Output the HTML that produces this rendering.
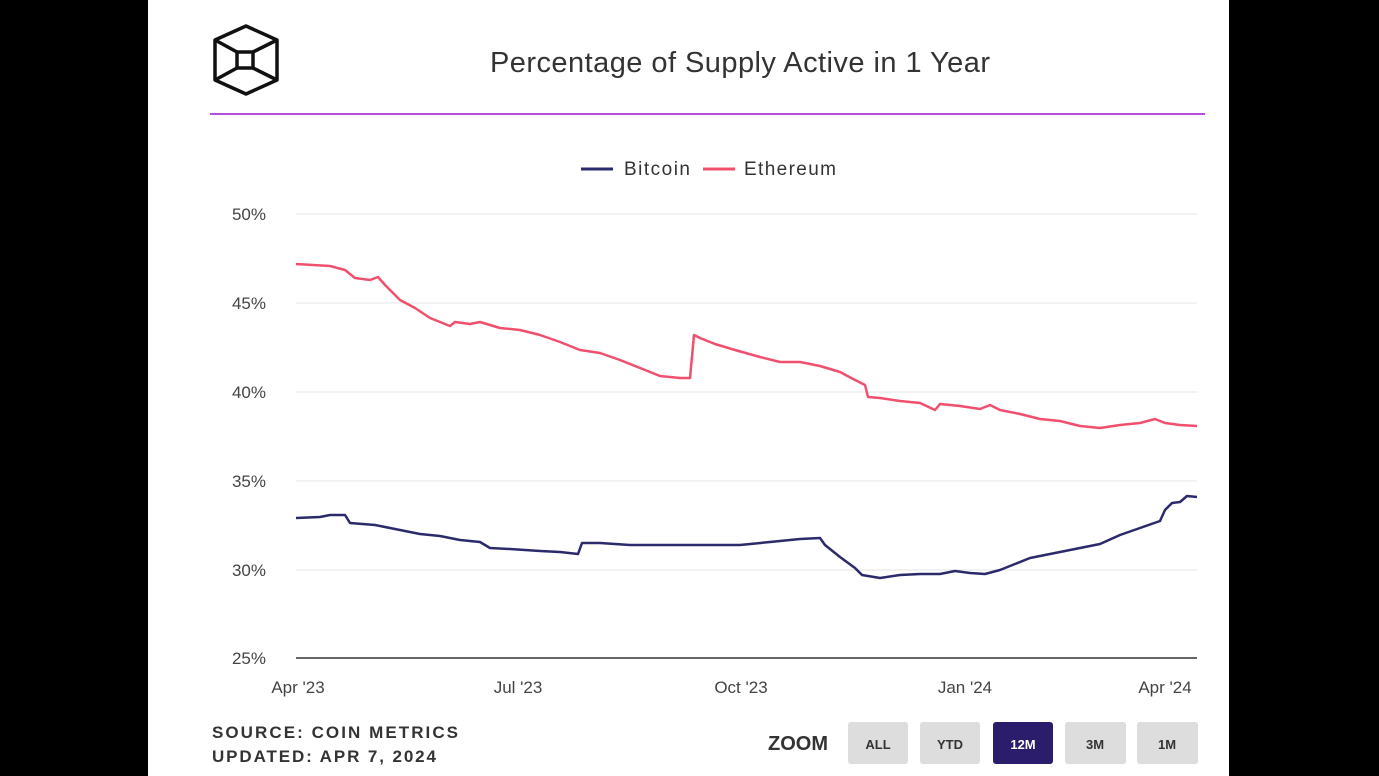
<!DOCTYPE html>
<html><head><meta charset="utf-8"><style>
html,body{margin:0;padding:0;background:#000;}
body{width:1379px;height:776px;overflow:hidden;position:relative;font-family:"Liberation Sans",sans-serif;}
#w{position:absolute;left:148px;top:0;width:1081px;height:776px;background:#fff;}
</style></head><body>
<div id="w"></div>
<svg width="1379" height="776" style="position:absolute;left:0;top:0" font-family="Liberation Sans, sans-serif">
<g stroke="#111" stroke-width="3.5" fill="none" stroke-linejoin="round">
<polygon points="246,26 277,40 277,80 246,94 215,80 215,40"/>
<rect x="237" y="52" width="16" height="16"/>
<line x1="237" y1="52" x2="215" y2="40"/><line x1="253" y1="52" x2="277" y2="40"/>
<line x1="237" y1="68" x2="215" y2="80"/><line x1="253" y1="68" x2="277" y2="80"/>
</g>
<text x="740" y="72" text-anchor="middle" font-size="29" fill="#333" textLength="500">Percentage of Supply Active in 1 Year</text>
<line x1="210" y1="114" x2="1205" y2="114" stroke="#b44ee0" stroke-width="2"/>
<line x1="581" y1="169" x2="613" y2="169" stroke="#2b2a6b" stroke-width="3"/>
<text x="624" y="175" font-size="19" fill="#333" textLength="66">Bitcoin</text>
<line x1="703" y1="169" x2="735" y2="169" stroke="#f0506e" stroke-width="3"/>
<text x="744" y="175" font-size="19" fill="#333" textLength="92">Ethereum</text>
<g stroke="#e6e6e6" stroke-width="1">
<line x1="296" y1="214" x2="1197" y2="214"/><line x1="296" y1="303" x2="1197" y2="303"/>
<line x1="296" y1="392" x2="1197" y2="392"/><line x1="296" y1="481" x2="1197" y2="481"/>
<line x1="296" y1="570" x2="1197" y2="570"/>
</g>
<line x1="296" y1="658" x2="1197" y2="658" stroke="#333" stroke-width="1.5"/>
<g font-size="17" fill="#444" text-anchor="end">
<text x="266" y="220">50%</text><text x="266" y="309">45%</text><text x="266" y="398">40%</text>
<text x="266" y="487">35%</text><text x="266" y="576">30%</text><text x="266" y="664">25%</text>
</g>
<g font-size="17" fill="#444" text-anchor="middle">
<text x="298" y="693">Apr '23</text><text x="518" y="693">Jul '23</text><text x="741" y="693">Oct '23</text>
<text x="965" y="693">Jan '24</text><text x="1165" y="693">Apr '24</text>
</g>
<polyline fill="none" stroke="#f0506e" stroke-width="2.5" stroke-linejoin="round" points="296,264 330,266 345,270 355,278 370,280 378,277 385,285 400,300 415,308 430,318 440,322 450,326 455,322 470,324 480,322 500,328 520,330 540,335 560,342 580,350 600,353 620,360 640,368 660,376 680,378 690,378 694,335 700,338 715,344 735,350 760,357 780,362 800,362 820,366 840,372 855,380 865,385 868,397 880,398 900,401 920,403 935,410 940,404 960,406 980,409 990,405 1000,410 1020,414 1040,419 1060,421 1080,426 1100,428 1120,425 1140,423 1155,419 1165,423 1180,425 1197,426"/>
<polyline fill="none" stroke="#2b2a6b" stroke-width="2.5" stroke-linejoin="round" points="296,518 320,517 330,515 345,515 350,523 375,525 400,530 420,534 440,536 460,540 480,542 490,548 510,549 540,551 560,552 578,554 582,543 600,543 630,545 660,545 700,545 740,545 770,542 800,539 820,538 825,545 840,557 855,568 862,575 880,578 900,575 920,574 940,574 955,571 970,573 985,574 1000,570 1010,566 1030,558 1060,552 1080,548 1100,544 1120,535 1140,528 1160,521 1165,510 1172,503 1180,502 1187,496 1197,497"/>
<g font-size="17" font-weight="bold" fill="#333">
<text x="212" y="738" textLength="246">SOURCE: COIN METRICS</text><text x="212" y="762" textLength="224">UPDATED: APR 7, 2024</text>
</g>
<text x="768" y="750" font-size="20" font-weight="bold" fill="#333">ZOOM</text>
<g font-size="13" font-weight="bold" text-anchor="middle">
<rect x="848" y="722" width="60" height="42" rx="3" fill="#ddd"/><text x="878" y="749" fill="#333">ALL</text>
<rect x="920" y="722" width="60" height="42" rx="3" fill="#ddd"/><text x="950" y="749" fill="#333">YTD</text>
<rect x="993" y="722" width="60" height="42" rx="3" fill="#2b1d6b"/><text x="1023" y="749" fill="#fff">12M</text>
<rect x="1065" y="722" width="61" height="42" rx="3" fill="#ddd"/><text x="1095" y="749" fill="#333">3M</text>
<rect x="1137" y="722" width="61" height="42" rx="3" fill="#ddd"/><text x="1167" y="749" fill="#333">1M</text>
</g>
</svg>
</body></html>
